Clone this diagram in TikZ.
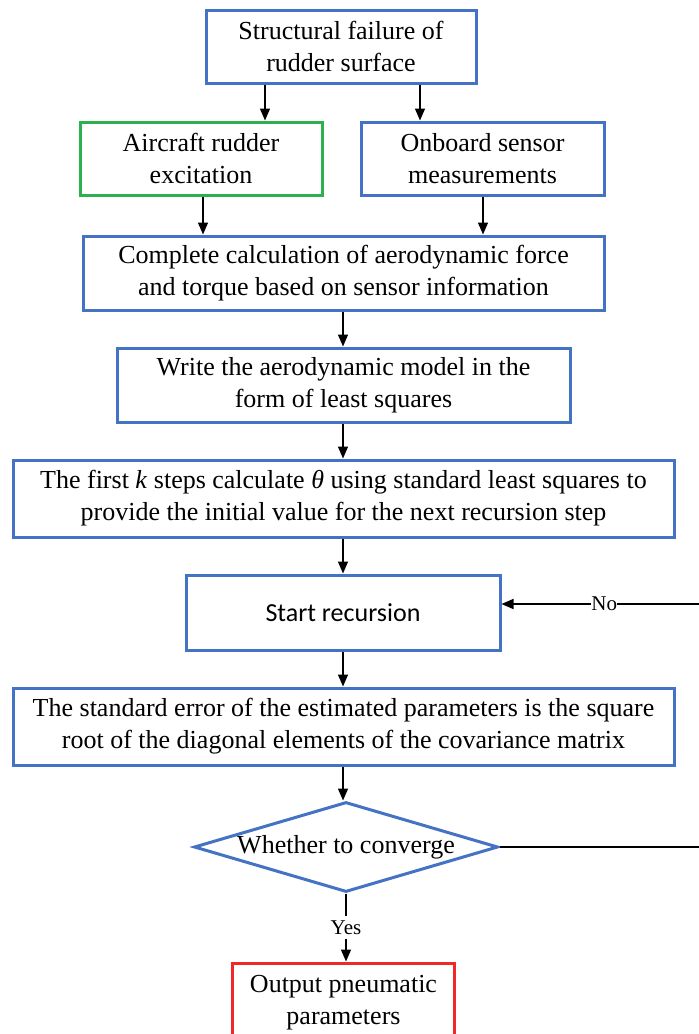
\documentclass[tikz,border=0pt]{standalone}
\usepackage{fontspec}
\setmainfont{Liberation Serif}
\newfontfamily\calib{Carlito}
\usetikzlibrary{shapes.geometric,arrows.meta}
\definecolor{bblue}{HTML}{4472C4}
\definecolor{bgreen}{HTML}{2DB150}
\definecolor{bred}{HTML}{F02828}
\begin{document}
\begin{tikzpicture}[x=1pt,y=-1pt,
  box/.style={draw=bblue,line width=3pt,align=center,inner sep=0pt,
    font=\fontsize{26}{32}\selectfont},
  arr/.style={-{Triangle[length=12pt,width=10pt]},line width=1.5pt,black},
  lbl/.style={font=\fontsize{21}{22}\selectfont,fill=white,inner sep=2pt}]
\clip (0,0) rectangle (699,1034);
\fill[white] (0,0) rectangle (699,1034);
\node[box,minimum width=270pt,minimum height=73pt] (b1) at (341,46.5) {Structural failure of\\rudder surface};
\node[box,draw=bgreen,minimum width=242pt,minimum height=73pt] (b2) at (201,158.5) {Aircraft rudder\\excitation};
\node[box,minimum width=243pt,minimum height=73pt] (b3) at (482.5,158.5) {Onboard sensor\\measurements};
\node[box,minimum width=521pt,minimum height=74pt] (b4) at (343.5,273) {Complete calculation of aerodynamic force\\and torque based on sensor information};
\node[box,minimum width=453pt,minimum height=74pt] (b5) at (343.5,385) {Write the aerodynamic model in the\\form of least squares};
\node[box,minimum width=661pt,minimum height=77pt] (b6) at (343.5,498.5) {The first \textit{k} steps calculate \textit{θ} using standard least squares to\\provide the initial value for the next recursion step};
\node[box,minimum width=314pt,minimum height=75pt,font=\calib\fontsize{26}{32}\selectfont] (b7) at (343,612.5) {Start recursion};
\node[box,minimum width=661pt,minimum height=77pt] (b8) at (343.5,726.5) {The standard error of the estimated parameters is the square\\root of the diagonal elements of the covariance matrix};
\node[box,diamond,aspect=3.38,minimum width=304pt,minimum height=90pt,inner sep=0pt] (d) at (346,847) {};
\node[font=\fontsize{26}{32}\selectfont] (dt) at (d.center) {Whether to converge};
\node[box,draw=bred,minimum width=222pt,minimum height=80pt] (b9) at (343.5,1003) {Output pneumatic\\parameters};
\coordinate (r1) at (720,847);
\coordinate (r2) at (720,604);
\draw[arr] (b1.south -| 265,0) -- (b2.north -| 265,0);
\draw[arr] (b1.south -| 420,0) -- (b3.north -| 420,0);
\draw[arr] (b2.south -| 203,0) -- (b4.north -| 203,0);
\draw[arr] (b3.south -| 483,0) -- (b4.north -| 483,0);
\draw[arr] (b4.south -| 343,0) -- (b5.north -| 343,0);
\draw[arr] (b5.south -| 343,0) -- (b6.north -| 343,0);
\draw[arr] (b6.south -| 343,0) -- (b7.north -| 343,0);
\draw[arr] (b7.south -| 343,0) -- (b8.north -| 343,0);
\draw[arr] (b8.south -| 343,0) -- (d.north -| 343,0);
\draw[arr] (d.south) -- node[lbl,pos=0.5,inner ysep=5pt] (yes) {Yes} (b9.north -| d.south);
\draw[line width=1.5pt] (d.east) -- (r1) -- (r2);
\draw[arr] (r2) -- node[lbl,pos=0.53,inner xsep=0pt] (no) {No} (b7.east |- r2);
\end{tikzpicture}
\end{document}
